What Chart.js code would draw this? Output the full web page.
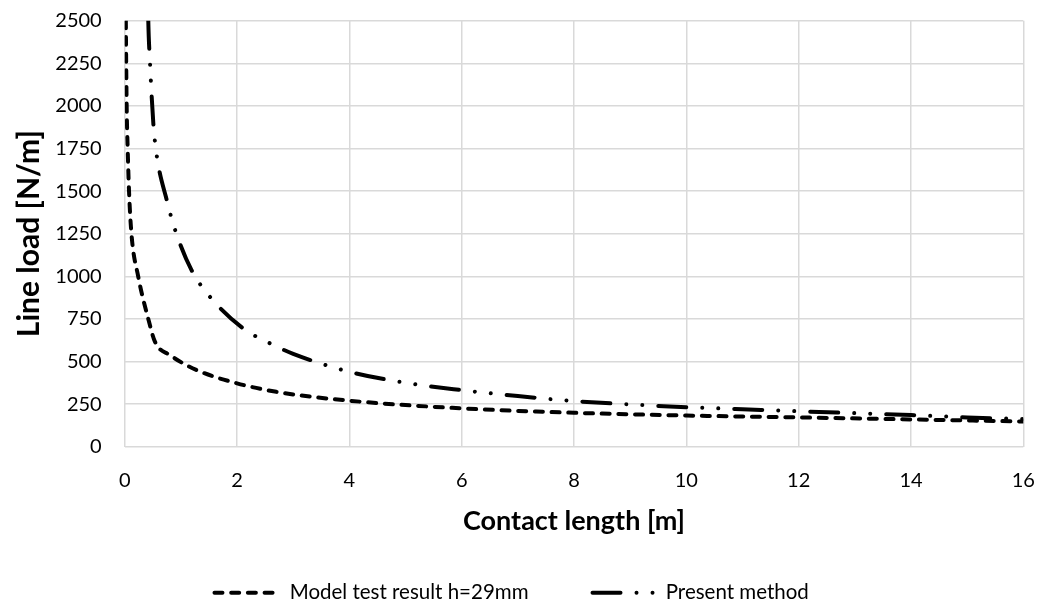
<!DOCTYPE html>
<html>
<head>
<meta charset="utf-8">
<script src="https://cdn.jsdelivr.net/npm/chart.js@4.4.1/dist/chart.umd.min.js"></script>
<style>
  html, body { margin: 0; padding: 0; background: #ffffff; }
  #wrap { width: 1045px; height: 608px; }
</style>
</head>
<body>
<div id="wrap"><canvas id="chart" width="1045" height="608"></canvas></div>
<script>
// Contact length [m] vs. line load [N/m]
const modelX = [0.016, 0.02, 0.035, 0.053, 0.077, 0.12, 0.24, 0.42, 0.54, 0.81, 1.28, 2, 2.7, 4, 6, 8, 10, 12, 14, 16];
const modelY = [2700, 2500, 2000, 1750, 1500, 1250, 1000, 750, 615, 537, 450, 372, 322, 270, 225, 199, 183, 172, 160, 148];

const presentX = [0.41, 0.42, 0.45, 0.51, 0.57, 0.75, 0.9, 1.19, 1.52, 2.11, 2.59, 3, 4, 5, 6, 7, 8, 9, 10, 11, 12, 13, 14, 15, 16];
const presentY = [2700, 2500, 2257, 1896, 1710, 1446, 1270, 1036, 879, 694, 606, 545, 440, 375, 332, 297, 268, 248, 232, 220, 208, 197, 186, 172, 162];

const seriesNames = ['Model test result h=29mm', 'Present method'];
const xTicks = [0, 2, 4, 6, 8, 10, 12, 14, 16];
const yTicks = [0, 250, 500, 750, 1000, 1250, 1500, 1750, 2000, 2250, 2500];

const FONT = 'Lato, "Open Sans", sans-serif';
const toPoints = (xs, ys) => xs.map((x, i) => ({ x, y: ys[i] }));

// chart area edges in canvas pixels
const AREA_LEFT = 124.7;
const AREA_BOTTOM = 446.7;
const LEGEND_SHIFT = 5;

// dash patterns: short dashes / long dash + two dots
const DASHED = [8, 8.7];
const DASH_DOT_DOT = [28, 16, 0.01, 16, 0.01, 16];
const legendDashOffset = [0, 74];

new Chart(document.getElementById('chart'), {
  type: 'scatter',
  data: {
    datasets: [
      {
        label: seriesNames[0],
        data: toPoints(modelX, modelY),
        showLine: true,
        borderColor: '#000000',
        backgroundColor: '#000000',
        borderWidth: 4,
        borderDash: DASHED,
        borderCapStyle: 'round',
        cubicInterpolationMode: 'monotone',
        pointRadius: 0,
        pointHoverRadius: 0,
        clip: 0
      },
      {
        label: seriesNames[1],
        data: toPoints(presentX, presentY),
        showLine: true,
        borderColor: '#000000',
        backgroundColor: '#000000',
        borderWidth: 4,
        borderDash: DASH_DOT_DOT,
        borderDashOffset: 42,
        borderCapStyle: 'round',
        cubicInterpolationMode: 'monotone',
        pointRadius: 0,
        pointHoverRadius: 0,
        clip: 0
      }
    ]
  },
  options: {
    responsive: false,
    animation: false,
    events: [],
    layout: { padding: { top: 20.7, right: 21.7, bottom: -LEGEND_SHIFT, left: 0 } },
    plugins: {
      tooltip: { enabled: false },
      legend: {
        position: 'bottom',
        labels: {
          usePointStyle: true,
          pointStyle: 'line',
          pointStyleWidth: 65,
          padding: 62,
          color: '#000000',
          font: { family: FONT, size: 20.5 },
          generateLabels: (chart) => {
            const items = Chart.defaults.plugins.legend.labels.generateLabels(chart);
            items.forEach((item) => {
              const ds = chart.data.datasets[item.datasetIndex];
              item.lineDash = ds.borderDash;
              item.lineDashOffset = legendDashOffset[item.datasetIndex];
              item.lineCap = ds.borderCapStyle;
              item.lineWidth = ds.borderWidth;
              item.strokeStyle = ds.borderColor;
              item.fillStyle = ds.borderColor;
              item.pointStyle = 'line';
            });
            return items;
          }
        }
      }
    },
    scales: {
      x: {
        type: 'linear',
        min: 0,
        max: 16,
        afterBuildTicks: (s) => { s.ticks = xTicks.map(v => ({ value: v })); },
        afterFit: (s) => {
          const legendH = s.chart.legend ? s.chart.legend.height : 0;
          s.height = s.chart.height + LEGEND_SHIFT - legendH - AREA_BOTTOM;
        },
        grid: { color: '#d9d9d9', lineWidth: 1.5, drawTicks: true, tickLength: 22, tickColor: 'rgba(0,0,0,0)' },
        border: { display: false },
        ticks: { color: '#000000', padding: 0, font: { family: FONT, size: 20 }, format: { useGrouping: false } },
        title: {
          display: true,
          text: 'Contact length [m]',
          color: '#000000',
          font: { family: FONT, size: 27, weight: 'bold' },
          padding: { top: 0, bottom: -17 }
        }
      },
      y: {
        type: 'linear',
        min: 0,
        max: 2500,
        afterBuildTicks: (s) => { s.ticks = yTicks.map(v => ({ value: v })); },
        afterFit: (s) => { s.width = AREA_LEFT; },
        grid: { color: '#d9d9d9', lineWidth: 1.5, drawTicks: true, tickLength: 23, tickColor: 'rgba(0,0,0,0)' },
        border: { display: false },
        ticks: { color: '#000000', padding: 0, font: { family: FONT, size: 20 }, format: { useGrouping: false } },
        title: {
          display: true,
          text: 'Line load [N/m]',
          color: '#000000',
          font: { family: FONT, size: 30, weight: 'bold' },
          padding: { top: 11, bottom: 0 }
        }
      }
    }
  }
});
</script>
</body>
</html>
